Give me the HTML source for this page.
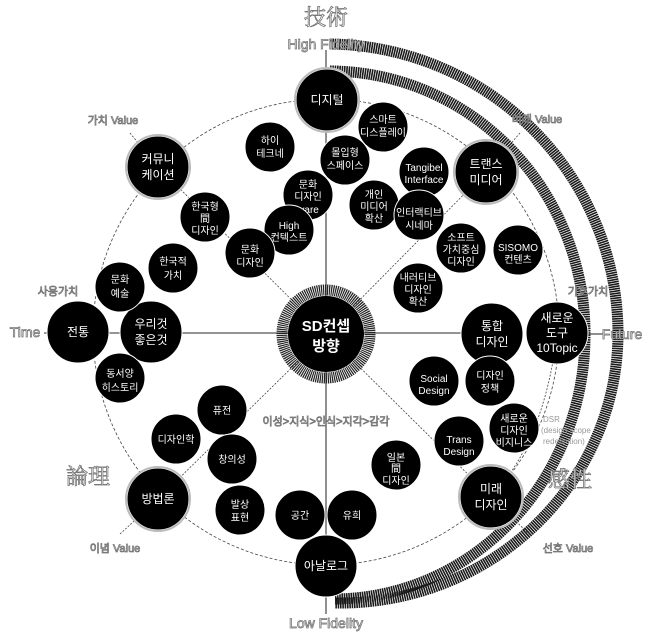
<!DOCTYPE html>
<html><head><meta charset="utf-8"><style>
html,body{margin:0;padding:0;background:#fff;}
svg{display:block;font-family:"Liberation Sans","Noto Sans CJK KR",sans-serif;}
.n{fill:#000;stroke:#fff;stroke-width:1;}
.nb{fill:#000;stroke:#fff;stroke-width:1;}
.ring{fill:none;stroke:#bbb;stroke-width:2;}
.t{fill:#fff;font-size:10px;text-anchor:middle;}
.tb{fill:#fff;font-size:12px;text-anchor:middle;}
.g{fill:#fff;stroke:#777;stroke-width:0.8;text-anchor:middle;}
.gl{fill:#888;font-size:10px;}
</style></head><body>
<svg width="659" height="637" viewBox="0 0 659 637" xmlns="http://www.w3.org/2000/svg">
<g fill="none" stroke="#1a1a1a" stroke-width="11" stroke-dasharray="1.6 0.7">
<path d="M330,44 A292,290 0 0 1 618,334 A278,270 0 0 1 335,603"/>
<path d="M330,71 A256,263 0 0 1 585,334 A252,264 0 0 1 335,599"/>
</g>
<circle cx="326" cy="332" r="233" fill="none" stroke="#444" stroke-width="0.8" stroke-dasharray="3 2"/>
<g stroke="#555" stroke-width="1.3">
<line x1="326" y1="50" x2="326" y2="614"/>
<line x1="44" y1="333" x2="492" y2="333"/>
<line x1="588" y1="334" x2="604" y2="334"/>
</g>
<g stroke="#444" stroke-width="0.8" stroke-dasharray="2 1.5" fill="none">
<line x1="326" y1="334" x2="486" y2="172"/>
<line x1="326" y1="334" x2="491" y2="497"/>
<line x1="326" y1="334" x2="158" y2="499"/>
<line x1="326" y1="334" x2="158" y2="167"/>
<line x1="130" y1="133" x2="158" y2="167"/>
<line x1="520" y1="133" x2="486" y2="172"/>
<line x1="120" y1="534" x2="158" y2="499"/>
<line x1="530" y1="535" x2="491" y2="497"/>
<path d="M557,333 Q545,440 491,497"/>
</g>
<circle cx="326" cy="334" r="44" fill="none" stroke="#222" stroke-width="11" stroke-dasharray="1.2 0.8"/>
<circle cx="326" cy="334" r="38" fill="#000"/>
<text x="326" y="331" class="tb" style="font-size:15px;font-weight:bold">SD컨셉</text>
<text x="326" y="351" class="tb" style="font-size:15px;font-weight:bold">방향</text>
<g>
<circle cx="327" cy="100" r="31" class="nb"/><circle cx="327" cy="100" r="32" class="ring"/>
<text x="327" y="104" class="tb">디지털</text>
<circle cx="486" cy="172" r="31" class="nb"/><circle cx="486" cy="172" r="32" class="ring"/>
<text x="486" y="168" class="tb">트랜스</text><text x="486" y="184" class="tb">미디어</text>
<circle cx="158" cy="167" r="31" class="nb"/><circle cx="158" cy="167" r="32" class="ring"/>
<text x="158" y="163" class="tb">커뮤니</text><text x="158" y="179" class="tb">케이션</text>
<circle cx="491" cy="497" r="31" class="nb"/><circle cx="491" cy="497" r="32" class="ring"/>
<text x="491" y="493" class="tb">미래</text><text x="491" y="509" class="tb">디자인</text>
<circle cx="158" cy="499" r="31" class="nb"/><circle cx="158" cy="499" r="32" class="ring"/>
<text x="158" y="503" class="tb">방법론</text>
<circle cx="326" cy="566" r="31" class="nb"/>
<text x="326" y="570" class="tb">아날로그</text>
<circle cx="78" cy="332" r="31" class="nb"/>
<text x="78" y="336" class="tb">전통</text>
<circle cx="151" cy="332" r="31" class="nb"/>
<text x="151" y="328" class="tb">우리것</text><text x="151" y="344" class="tb">좋은것</text>
<circle cx="492" cy="334" r="31" class="nb"/>
<text x="492" y="330" class="tb">통합</text><text x="492" y="346" class="tb">디자인</text>
<circle cx="557" cy="333" r="31" class="nb"/>
<text x="557" y="322" class="tb">새로운</text><text x="557" y="337" class="tb">도구</text><text x="557" y="352" class="tb">10Topic</text>
</g>
<g>
<circle cx="383" cy="127" r="25" class="n"/><text x="383" y="123" class="t">스마트</text><text x="383" y="136" class="t">디스플레이</text>
<circle cx="270" cy="147" r="25" class="n"/><text x="270" y="144" class="t">하이</text><text x="270" y="157" class="t">테크네</text>
<circle cx="345" cy="160" r="25" class="n"/><text x="345" y="156" class="t">몰입형</text><text x="345" y="169" class="t">스페이스</text>
<circle cx="424" cy="172" r="25" class="n"/><text x="424" y="171" class="t">Tangibel</text><text x="424" y="183" class="t">Interface</text>
<circle cx="308" cy="195" r="25" class="n"/><text x="308" y="188" class="t">문화</text><text x="308" y="200" class="t">디자인</text><text x="308" y="213" class="t">ware</text>
<circle cx="374" cy="205" r="25" class="n"/><text x="374" y="198" class="t">개인</text><text x="374" y="210" class="t">미디어</text><text x="374" y="222" class="t">확산</text>
<circle cx="419" cy="215" r="25" class="n"/><text x="419" y="216" class="t">인터랙티브</text><text x="419" y="229" class="t">시네마</text>
<circle cx="289" cy="230" r="25" class="n"/><text x="289" y="229" class="t">High</text><text x="289" y="241" class="t">컨텍스트</text>
<circle cx="250" cy="253" r="25" class="n"/><text x="250" y="253" class="t">문화</text><text x="250" y="266" class="t">디자인</text>
<circle cx="205" cy="217" r="25" class="n"/><text x="205" y="210" class="t">한국형</text><text x="205" y="222" class="t">間</text><text x="205" y="234" class="t">디자인</text>
<circle cx="173" cy="268" r="25" class="n"/><text x="173" y="265" class="t">한국적</text><text x="173" y="279" class="t">가치</text>
<circle cx="461" cy="248" r="25" class="n"/><text x="461" y="241" class="t">소프트</text><text x="461" y="253" class="t">가치중심</text><text x="461" y="265" class="t">디자인</text>
<circle cx="518" cy="250" r="25" class="n"/><text x="518" y="251" class="t">SISOMO</text><text x="518" y="263" class="t">컨텐츠</text>
<circle cx="418" cy="288" r="25" class="n"/><text x="418" y="281" class="t">내러티브</text><text x="418" y="293" class="t">디자인</text><text x="418" y="305" class="t">확산</text>
<circle cx="120" cy="287" r="25" class="n"/><text x="120" y="283" class="t">문화</text><text x="120" y="297" class="t">예술</text>
<circle cx="120" cy="378" r="25" class="n"/><text x="120" y="377" class="t">동서양</text><text x="120" y="391" class="t">히스토리</text>
<circle cx="434" cy="381" r="25" class="n"/><text x="434" y="382" class="t">Social</text><text x="434" y="394" class="t">Design</text>
<circle cx="490" cy="381" r="25" class="n"/><text x="490" y="379" class="t">디자인</text><text x="490" y="392" class="t">정책</text>
<circle cx="514" cy="428" r="25" class="n"/><text x="514" y="422" class="t">새로운</text><text x="514" y="434" class="t">디자인</text><text x="514" y="446" class="t">비지니스</text>
<circle cx="459" cy="441" r="25" class="n"/><text x="459" y="443" class="t">Trans</text><text x="459" y="455" class="t">Design</text>
<circle cx="396" cy="465" r="25" class="n"/><text x="396" y="461" class="t">일본</text><text x="396" y="472" class="t">間</text><text x="396" y="484" class="t">디자인</text>
<circle cx="222" cy="410" r="25" class="n"/><text x="222" y="414" class="t">퓨전</text>
<circle cx="176" cy="439" r="25" class="n"/><text x="176" y="443" class="t">디자인학</text>
<circle cx="232" cy="459" r="25" class="n"/><text x="232" y="463" class="t">창의성</text>
<circle cx="240" cy="510" r="25" class="n"/><text x="240" y="508" class="t">발상</text><text x="240" y="521" class="t">표현</text>
<circle cx="300" cy="515" r="25" class="n"/><text x="300" y="519" class="t">공간</text>
<circle cx="352" cy="515" r="25" class="n"/><text x="352" y="519" class="t">유희</text>
</g>
<text x="326" y="25" class="g" style="font-size:22px;font-family:'Noto Serif CJK SC',serif">技術</text>
<text x="326" y="49" class="g" style="font-size:14px">High Fidelity</text>
<text x="326" y="628" class="g" style="font-size:14px">Low Fidelity</text>
<text x="25" y="337" class="g" style="font-size:14px">Time</text>
<text x="622" y="339" class="g" style="font-size:14px">Future</text>
<text x="88" y="484" class="g" style="font-size:22px;font-family:'Noto Serif CJK SC',serif">論理</text>
<text x="570" y="487" class="g" style="font-size:22px;font-family:'Noto Serif CJK SC',serif">感性</text>
<text x="113" y="124" class="g" style="font-size:11px">가치 Value</text>
<text x="537" y="123" class="g" style="font-size:11px">미래 Value</text>
<text x="58" y="295" class="g" style="font-size:11px">사용가치</text>
<text x="588" y="295" class="g" style="font-size:11px">기호가치</text>
<text x="115" y="552" class="g" style="font-size:11px">이념 Value</text>
<text x="568" y="552" class="g" style="font-size:11px">선호 Value</text>
<text x="326" y="425" class="g" style="font-size:11px">이성&gt;지식&gt;인식&gt;지각&gt;감각</text>
<text x="543" y="422" class="gl" style="font-size:8px;fill:#999">DSR</text>
<text x="541" y="433" class="gl" style="font-size:8px;fill:#999">(design scope</text>
<text x="543" y="444" class="gl" style="font-size:8px;fill:#999">redefinition)</text>
</svg>
</body></html>
